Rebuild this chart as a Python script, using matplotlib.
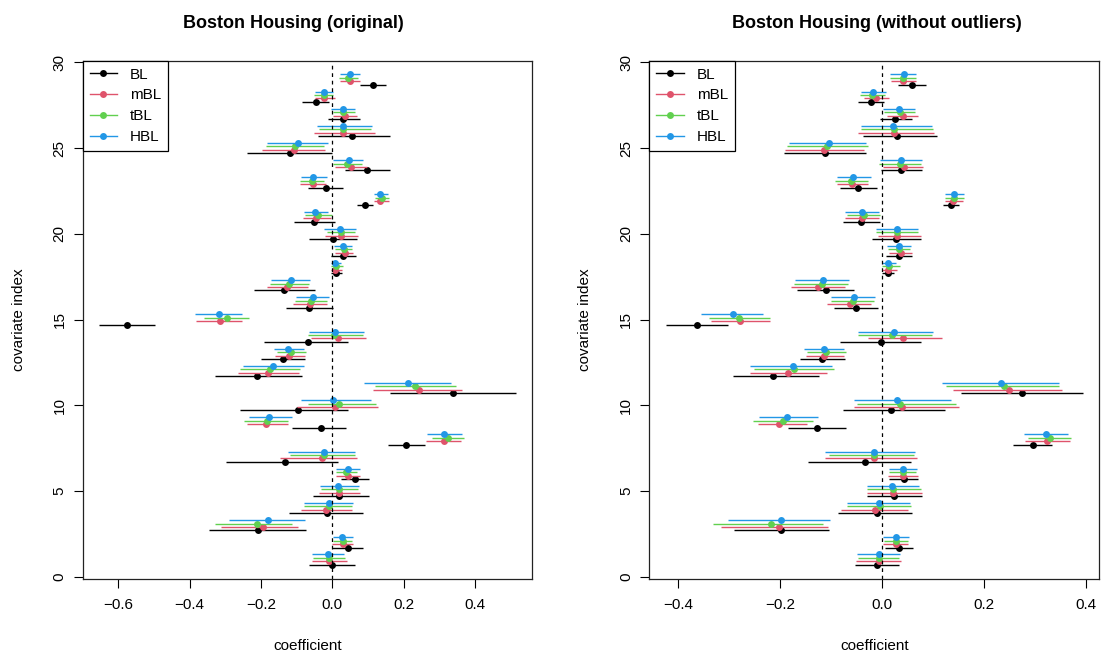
import numpy as np
import matplotlib
matplotlib.use('Agg')
import matplotlib.pyplot as plt
from matplotlib.lines import Line2D

plt.rcParams['font.family'] = ['Liberation Sans', 'DejaVu Sans']
plt.rcParams['axes.unicode_minus'] = True

#==== data: covariate 1..29, estimate / lower / upper ====
covariates = np.arange(1, 30)
methods = ['BL', 'mBL', 'tBL', 'HBL']
colours = ['black', '#DF536B', '#61D04F', '#2297E6']
offsets = [-0.3, -0.1, 0.1, 0.3]

# original data
orig_BL_est = [-0.002, 0.043, -0.209, -0.014, 0.019, 0.063, -0.132, 0.208, -0.033, -0.096, 0.340, -0.210, -0.139, -0.069, -0.577,
               -0.064, -0.136, 0.010, 0.030, 0.002, -0.051, 0.092, -0.019, 0.098, -0.119, 0.056, 0.030, -0.047, 0.115]
orig_BL_lo = [-0.066, 0.000, -0.345, -0.122, -0.055, 0.025, -0.299, 0.155, -0.112, -0.259, 0.162, -0.328, -0.200, -0.191, -0.655,
              -0.130, -0.221, -0.005, -0.005, -0.065, -0.108, 0.068, -0.067, 0.036, -0.239, -0.040, -0.011, -0.084, 0.079]
orig_BL_hi = [0.063, 0.085, -0.075, 0.087, 0.102, 0.102, 0.017, 0.260, 0.038, 0.043, 0.514, -0.085, -0.077, 0.043, -0.498,
              0.003, -0.049, 0.027, 0.066, 0.068, 0.007, 0.115, 0.030, 0.161, -0.002, 0.162, 0.078, -0.010, 0.152]
orig_mBL_est = [-0.008, 0.029, -0.194, -0.018, 0.019, 0.043, -0.029, 0.313, -0.185, 0.007, 0.242, -0.180, -0.121, 0.015, -0.314,
                -0.062, -0.127, 0.008, 0.035, 0.024, -0.046, 0.134, -0.055, 0.052, -0.108, 0.029, 0.036, -0.022, 0.049]
orig_mBL_lo = [-0.058, 0.000, -0.311, -0.088, -0.038, 0.010, -0.146, 0.262, -0.240, -0.100, 0.115, -0.264, -0.161, -0.060, -0.383,
               -0.109, -0.183, -0.004, 0.008, -0.020, -0.081, 0.117, -0.090, 0.007, -0.197, -0.050, 0.001, -0.048, 0.022]
orig_mBL_hi = [0.040, 0.059, -0.096, 0.054, 0.079, 0.079, 0.068, 0.362, -0.123, 0.127, 0.364, -0.093, -0.077, 0.094, -0.253,
               -0.014, -0.068, 0.027, 0.059, 0.072, -0.004, 0.158, -0.018, 0.096, -0.021, 0.121, 0.070, 0.007, 0.078]
orig_tBL_est = [-0.008, 0.029, -0.212, -0.010, 0.019, 0.038, -0.024, 0.325, -0.184, 0.020, 0.233, -0.175, -0.116, 0.006, -0.296,
                -0.059, -0.121, 0.010, 0.032, 0.024, -0.041, 0.139, -0.058, 0.041, -0.104, 0.029, 0.030, -0.024, 0.045]
orig_tBL_lo = [-0.053, 0.001, -0.328, -0.080, -0.032, 0.010, -0.119, 0.280, -0.247, -0.069, 0.121, -0.259, -0.155, -0.068, -0.360,
               -0.106, -0.175, -0.005, 0.007, -0.014, -0.076, 0.120, -0.092, 0.001, -0.186, -0.038, 0.001, -0.050, 0.020]
orig_tBL_hi = [0.036, 0.055, -0.112, 0.055, 0.072, 0.068, 0.065, 0.370, -0.123, 0.124, 0.348, -0.091, -0.074, 0.085, -0.235,
               -0.016, -0.066, 0.031, 0.055, 0.065, -0.002, 0.158, -0.023, 0.082, -0.024, 0.108, 0.064, 0.003, 0.073]
orig_HBL_est = [-0.011, 0.028, -0.179, -0.008, 0.017, 0.044, -0.022, 0.314, -0.177, 0.003, 0.212, -0.166, -0.123, 0.008, -0.319,
                -0.055, -0.117, 0.007, 0.030, 0.021, -0.048, 0.134, -0.053, 0.047, -0.097, 0.029, 0.030, -0.024, 0.049]
orig_HBL_lo = [-0.058, 0.001, -0.289, -0.080, -0.035, 0.010, -0.123, 0.266, -0.234, -0.088, 0.089, -0.251, -0.164, -0.065, -0.385,
               -0.101, -0.173, -0.005, 0.006, -0.022, -0.080, 0.116, -0.088, 0.001, -0.183, -0.044, -0.003, -0.048, 0.022]
orig_HBL_hi = [0.032, 0.057, -0.077, 0.057, 0.074, 0.077, 0.063, 0.364, -0.114, 0.108, 0.332, -0.078, -0.080, 0.090, -0.254,
               -0.010, -0.062, 0.025, 0.056, 0.066, -0.011, 0.157, -0.016, 0.087, -0.013, 0.112, 0.064, 0.001, 0.078]

# without outliers
clean_BL_est = [-0.010, 0.033, -0.199, -0.011, 0.023, 0.042, -0.034, 0.295, -0.128, 0.018, 0.275, -0.214, -0.118, -0.003, -0.363,
                -0.052, -0.111, 0.012, 0.032, 0.026, -0.042, 0.135, -0.047, 0.036, -0.112, 0.029, 0.025, -0.022, 0.058]
clean_BL_lo = [-0.054, 0.005, -0.290, -0.086, -0.029, 0.014, -0.145, 0.256, -0.184, -0.076, 0.154, -0.293, -0.161, -0.083, -0.424,
               -0.094, -0.167, 0.000, 0.008, -0.020, -0.076, 0.119, -0.083, -0.003, -0.192, -0.037, -0.005, -0.048, 0.031]
clean_BL_hi = [0.033, 0.061, -0.105, 0.059, 0.078, 0.071, 0.056, 0.333, -0.071, 0.123, 0.393, -0.125, -0.073, 0.075, -0.302,
               -0.009, -0.055, 0.024, 0.058, 0.075, -0.005, 0.151, -0.011, 0.078, -0.031, 0.107, 0.058, 0.003, 0.085]
clean_mBL_est = [-0.007, 0.027, -0.203, -0.014, 0.022, 0.041, -0.016, 0.324, -0.203, 0.039, 0.248, -0.184, -0.114, 0.041, -0.278,
                 -0.063, -0.126, 0.012, 0.036, 0.029, -0.039, 0.139, -0.059, 0.042, -0.114, 0.024, 0.040, -0.012, 0.041]
clean_mBL_lo = [-0.052, 0.002, -0.316, -0.080, -0.029, 0.012, -0.112, 0.280, -0.244, -0.055, 0.138, -0.259, -0.150, -0.027, -0.335,
                -0.108, -0.179, 0.000, 0.014, -0.009, -0.073, 0.123, -0.089, 0.001, -0.191, -0.047, 0.010, -0.035, 0.017]
clean_mBL_hi = [0.036, 0.051, -0.107, 0.051, 0.077, 0.071, 0.069, 0.368, -0.148, 0.150, 0.353, -0.108, -0.075, 0.117, -0.221,
                -0.022, -0.073, 0.029, 0.058, 0.075, -0.007, 0.159, -0.027, 0.080, -0.036, 0.102, 0.071, 0.013, 0.066]
clean_tBL_est = [-0.006, 0.027, -0.219, -0.005, 0.021, 0.040, -0.017, 0.328, -0.195, 0.034, 0.239, -0.173, -0.110, 0.020, -0.280,
                 -0.057, -0.118, 0.013, 0.033, 0.028, -0.036, 0.141, -0.061, 0.035, -0.108, 0.024, 0.034, -0.020, 0.041]
clean_tBL_lo = [-0.048, 0.004, -0.332, -0.069, -0.029, 0.013, -0.105, 0.285, -0.253, -0.050, 0.125, -0.252, -0.148, -0.048, -0.339,
                -0.100, -0.173, 0.000, 0.012, -0.012, -0.069, 0.123, -0.093, -0.007, -0.186, -0.042, 0.003, -0.043, 0.016]
clean_tBL_hi = [0.033, 0.051, -0.117, 0.056, 0.076, 0.067, 0.063, 0.370, -0.135, 0.144, 0.346, -0.094, -0.071, 0.097, -0.221,
                -0.016, -0.067, 0.034, 0.054, 0.071, -0.005, 0.161, -0.028, 0.076, -0.027, 0.100, 0.064, 0.005, 0.067]
clean_HBL_est = [-0.007, 0.026, -0.199, -0.007, 0.020, 0.041, -0.016, 0.321, -0.186, 0.029, 0.233, -0.176, -0.115, 0.023, -0.292,
                 -0.056, -0.117, 0.012, 0.032, 0.029, -0.040, 0.141, -0.057, 0.036, -0.105, 0.022, 0.033, -0.018, 0.042]
clean_HBL_lo = [-0.050, 0.001, -0.302, -0.069, -0.029, 0.013, -0.112, 0.278, -0.241, -0.055, 0.118, -0.259, -0.153, -0.047, -0.355,
                -0.101, -0.171, 0.000, 0.010, -0.012, -0.073, 0.124, -0.089, -0.005, -0.182, -0.041, 0.002, -0.041, 0.016]
clean_HBL_hi = [0.035, 0.052, -0.103, 0.054, 0.072, 0.068, 0.064, 0.364, -0.126, 0.135, 0.347, -0.099, -0.075, 0.099, -0.234,
                -0.014, -0.066, 0.027, 0.056, 0.071, -0.007, 0.160, -0.023, 0.077, -0.031, 0.098, 0.064, 0.007, 0.067]

orig = [(orig_BL_est, orig_BL_lo, orig_BL_hi), (orig_mBL_est, orig_mBL_lo, orig_mBL_hi),
        (orig_tBL_est, orig_tBL_lo, orig_tBL_hi), (orig_HBL_est, orig_HBL_lo, orig_HBL_hi)]
clean = [(clean_BL_est, clean_BL_lo, clean_BL_hi), (clean_mBL_est, clean_mBL_lo, clean_mBL_hi),
         (clean_tBL_est, clean_tBL_lo, clean_tBL_hi), (clean_HBL_est, clean_HBL_lo, clean_HBL_hi)]

fig = plt.figure(figsize=(11.01, 6.56), dpi=100)
ax1 = fig.add_axes([0.0751, 0.1174, 0.4084, 0.790])
ax2 = fig.add_axes([0.5897, 0.1174, 0.4087, 0.790])

FS = 11


def panel(ax, series, xlim, xticks):
    for (est, lo, hi), col, off in zip(series, colours, offsets):
        y = covariates + off
        ax.hlines(y, lo, hi, color=col, lw=1.0)
        ax.plot(est, y, 'o', color=col, ms=5, mew=0)
    ax.axvline(0, color='black', ls=(0, (3, 3)), lw=0.9)
    ax.set_xlim(*xlim)
    ax.set_ylim(-0.13, 30.1)
    ax.set_xticks(xticks)
    ax.set_xticklabels([('%.1f' % t).replace('-', '\u2212') if abs(t) > 1e-9 else '0.0' for t in xticks])
    ax.set_yticks([0, 5, 10, 15, 20, 25, 30])
    for lab in ax.get_yticklabels():
        lab.set_rotation(90)
        lab.set_va('center')
    ax.tick_params(direction='out', length=6.7, width=0.8, labelsize=FS, colors='black')
    ax.tick_params(axis='x', pad=7)
    ax.tick_params(axis='y', pad=5)
    for s in ax.spines.values():
        s.set_linewidth(0.9)
        s.set_color('#222222')
    ax.set_xlabel('coefficient', fontsize=FS, va='center')
    ax.xaxis.set_label_coords(0.5, -0.129)
    ax.set_ylabel('covariate index', fontsize=FS, va='center')
    ax.yaxis.set_label_coords(-0.142, 0.5)
    handles = [Line2D([], [], color=c, lw=1.0, marker='o', ms=5, mew=0) for c in colours]
    leg = ax.legend(handles, methods, loc='upper left', bbox_to_anchor=(0, 1), borderaxespad=0,
                    fancybox=False, edgecolor='black', framealpha=1, fontsize=FS, numpoints=1,
                    handlelength=1.8, handletextpad=0.85, labelspacing=0.45, borderpad=0.45)
    leg.get_frame().set_linewidth(0.9)


panel(ax1, orig, (-0.7003, 0.5612), [-0.6, -0.4, -0.2, 0.0, 0.2, 0.4])
panel(ax2, clean, (-0.4569, 0.4255), [-0.4, -0.2, 0.0, 0.2, 0.4])

fig.text(293 / 1101, 1 - 23 / 656, 'Boston Housing (original)', ha='center', va='center',
         fontsize=13, fontweight='bold')
fig.text(877 / 1101, 1 - 23 / 656, 'Boston Housing (without outliers)', ha='center', va='center',
         fontsize=13, fontweight='bold')

fig.savefig('out.png', dpi=100)
